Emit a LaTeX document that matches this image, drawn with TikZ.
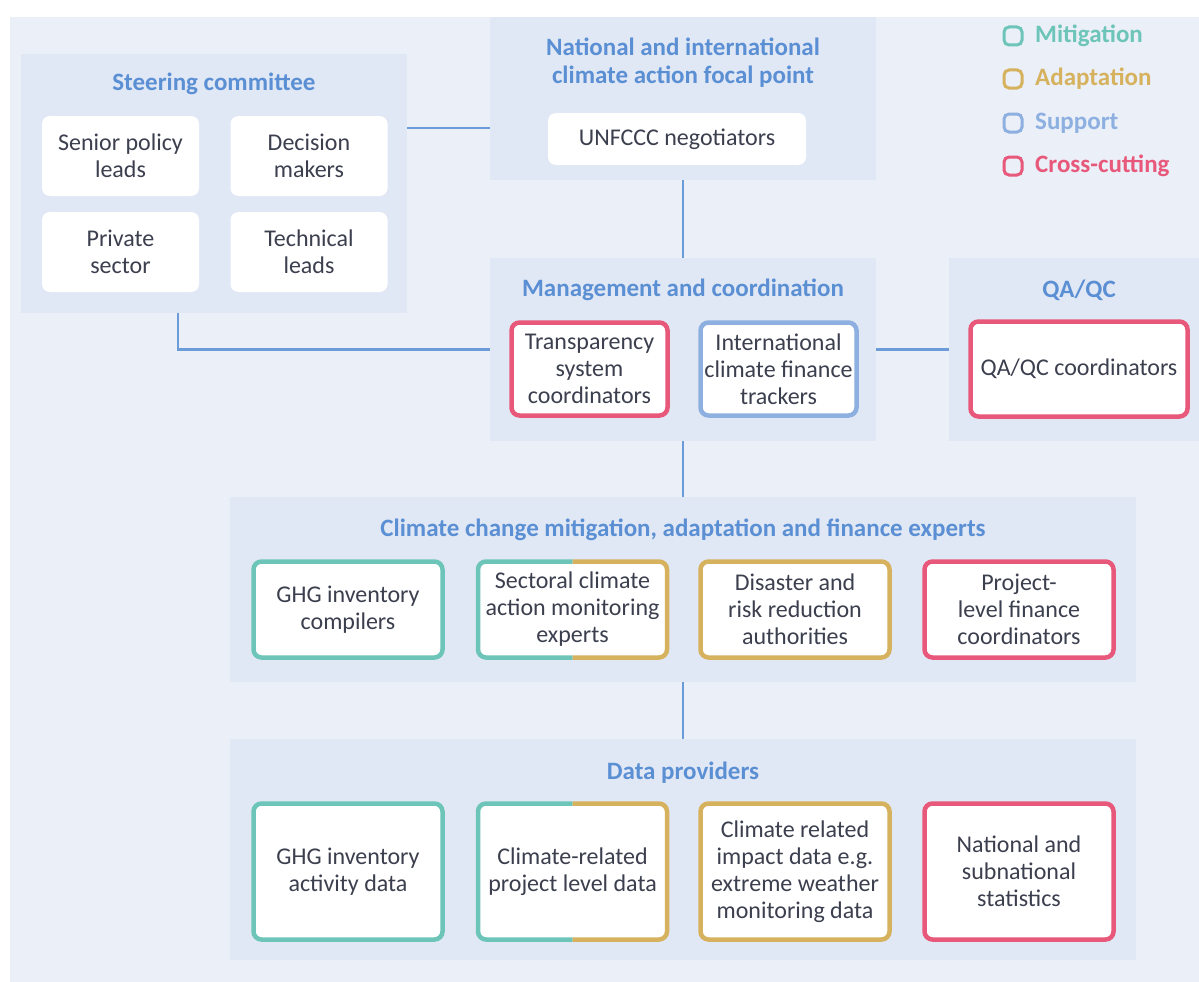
\documentclass[tikz,border=0pt]{standalone}
\usepackage{fontspec}
\setmainfont{Carlito}

\definecolor{bgc}{HTML}{EAEFF8}
\definecolor{panelc}{HTML}{E1E8F5}
\definecolor{titlec}{HTML}{5B8FD4}
\definecolor{linec}{HTML}{6C9BD9}
\definecolor{textc}{HTML}{3B3F4E}
\definecolor{mitc}{HTML}{6DC5B9}
\definecolor{adac}{HTML}{D6B25E}
\definecolor{supc}{HTML}{8DB0E0}
\definecolor{crossc}{HTML}{E8587A}

\tikzset{
  panel/.style={fill=panelc, inner sep=0pt, outer sep=0pt},
  paneltitle/.style={text=titlec, font=\fontsize{25}{28}\selectfont\bfseries, align=center},
  plainbox/.style={fill=white, rounded corners=8pt, align=center, text=textc,
    font=\fontsize{24}{27}\selectfont, inner sep=0pt, outer sep=0pt},
  colbox/.style={plainbox, draw=#1, line width=4.5pt},
  halfline/.style={draw=#1, line width=4.5pt, rounded corners=8pt},
  conn/.style={draw=linec, line width=2.5pt},
  legbox/.style={draw=#1, line width=3pt, rounded corners=5pt, minimum size=18pt, inner sep=0pt},
  legtext/.style={text=#1, font=\fontsize{25}{28}\selectfont\bfseries, anchor=west, inner sep=0pt}
}

\begin{document}
\begin{tikzpicture}[x=1pt,y=-1pt]
\useasboundingbox (0,0) rectangle (1199,982);
% Fond
\fill[bgc] (10,17) rectangle (1199,982);

% Panneaux
\node[panel, minimum width=386pt, minimum height=259pt] (steer) at (214,183.5) {};
\node[panel, minimum width=386pt, minimum height=163pt] (natl) at (683,98.5) {};
\node[panel, minimum width=386pt, minimum height=183pt] (mgmt) at (683,349.5) {};
\node[panel, minimum width=250pt, minimum height=183pt] (qaqc) at (1074,349.5) {};
\node[panel, minimum width=906pt, minimum height=185pt] (experts) at (683,589.5) {};
\node[panel, minimum width=906pt, minimum height=221pt] (data) at (683,849.5) {};

% Titres
\node[paneltitle] (steertitle) at (214,84) {Steering committee};
\node[paneltitle] (natltitle) at (683,63) {National and international\\climate action focal point};
\node[paneltitle] (mgmttitle) at (683,290) {Management and coordination};
\node[paneltitle] (qaqctitle) at (1079,290) {QA/QC};
\node[paneltitle] (expertstitle) at (683,530) {Climate change mitigation, adaptation and finance experts};
\node[paneltitle] (datatitle) at (683,773) {Data providers};

% Comite de pilotage
\node[plainbox, minimum width=157pt, minimum height=80pt] (senior) at (120.5,156) {Senior policy\\leads};
\node[plainbox, minimum width=157pt, minimum height=80pt] (decision) at (309,156) {Decision\\makers};
\node[plainbox, minimum width=157pt, minimum height=80pt] (private) at (120.5,252) {Private\\sector};
\node[plainbox, minimum width=157pt, minimum height=80pt] (technical) at (309,252) {Technical\\leads};

% Point focal
\node[plainbox, minimum width=258pt, minimum height=52pt] (unfccc) at (677,139) {UNFCCC negotiators};

% Gestion et coordination
\node[colbox=crossc, minimum width=156pt, minimum height=93pt] (transp) at (589.5,369) {Transparency\\system\\coordinators};
\node[colbox=supc, minimum width=156pt, minimum height=93pt] (finance) at (778.5,369) {International\\climate finance\\trackers};
\node[colbox=crossc, minimum width=217pt, minimum height=95pt] (qaqccoord) at (1079,369) {QA/QC coordinators};

% Experts
\node[colbox=mitc, minimum width=189pt, minimum height=96pt] (ghgcomp) at (348,609.5) {GHG inventory\\compilers};
\node[plainbox, minimum width=189pt, minimum height=96pt] (sectoral) at (572.5,609.5) {Sectoral climate\\action monitoring\\experts};
\draw[halfline=mitc] (sectoral.south) -| (sectoral.north west) -- (sectoral.north);
\draw[halfline=adac] (sectoral.north) -| (sectoral.south east) -- (sectoral.south);
\node[colbox=adac, minimum width=189pt, minimum height=96pt] (disaster) at (795,609.5) {Disaster and\\risk reduction\\authorities};
\node[colbox=crossc, minimum width=189pt, minimum height=96pt] (projfin) at (1019,609.5) {Project-\\level finance\\coordinators};

% Fournisseurs de donnees
\node[colbox=mitc, minimum width=189pt, minimum height=136pt] (ghgdata) at (348,871.5) {GHG inventory\\activity data};
\node[plainbox, minimum width=189pt, minimum height=136pt] (projdata) at (572.5,871.5) {Climate-related\\project level data};
\draw[halfline=mitc] (projdata.south) -| (projdata.north west) -- (projdata.north);
\draw[halfline=adac] (projdata.north) -| (projdata.south east) -- (projdata.south);
\node[colbox=adac, minimum width=189pt, minimum height=136pt] (impact) at (795,871.5) {Climate related\\impact data e.g.\\extreme weather\\monitoring data};
\node[colbox=crossc, minimum width=189pt, minimum height=136pt] (stats) at (1019,871.5) {National and\\subnational\\statistics};

% Liaisons
\draw[conn] ([yshift=-74pt]steer.north east) -- ([yshift=-74pt]steer.north east -| natl.west);
\draw[conn] (natl.south) -- (mgmt.north);
\draw[conn] ([xshift=-36pt]steer.south) |- (mgmt.west);
\draw[conn] (mgmt.east) -- (qaqc.west);
\draw[conn] (mgmt.south) -- (experts.north);
\draw[conn] (experts.south) -- (data.north);

% Legende
\node[legbox=mitc] (legmit) at (1013,36) {};
\node[legtext=mitc] (legmittext) at (1035,36) {Mitigation};
\node[legbox=adac] (legada) at (1013,79) {};
\node[legtext=adac] (legadatext) at (1035,79) {Adaptation};
\node[legbox=supc] (legsup) at (1013,123) {};
\node[legtext=supc] (legsuptext) at (1035,123) {Support};
\node[legbox=crossc] (legcross) at (1013,166) {};
\node[legtext=crossc] (legcrosstext) at (1035,166) {Cross-cutting};
\end{tikzpicture}
\end{document}
